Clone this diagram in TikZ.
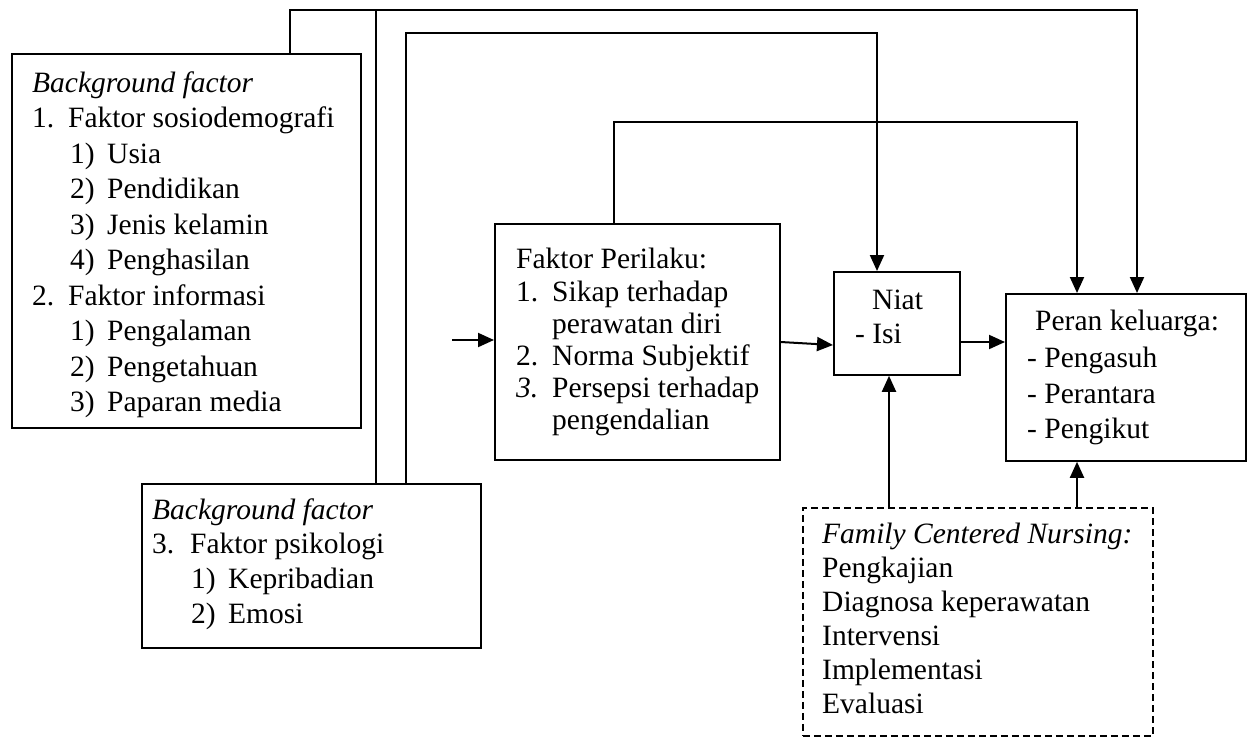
\documentclass[tikz,border=0pt]{standalone}
\usepackage{fontspec}
\setmainfont{Liberation Serif}
\usetikzlibrary{arrows.meta}
\begin{document}
\begin{tikzpicture}[x=1pt,y=-1pt,
  box/.style={draw,line width=1.8pt,inner sep=0pt,anchor=north west},
  dbox/.style={box,line width=1.6pt,dash pattern=on 7pt off 4pt},
  txt/.style={inner sep=0pt,anchor=base west,font=\fontsize{29.5}{34}\selectfont},
  itxt/.style={txt,font=\fontsize{29.5}{34}\selectfont\itshape},
  conn/.style={line width=2pt},
  arr/.style={conn,-{Triangle[length=16pt,width=14pt]}}]
\useasboundingbox (0,0) rectangle (1247,737);
% boxes
\node[box,minimum width=349pt,minimum height=374pt] (b1) at (11,53) {};
\node[box,minimum width=339pt,minimum height=164pt] (b3) at (141,483) {};
\node[box,minimum width=285pt,minimum height=236pt] (fk) at (494,223) {};
\node[box,minimum width=126pt,minimum height=103pt] (niat) at (833,271) {};
\node[box,minimum width=240pt,minimum height=167pt] (peran) at (1005,293) {};
\node[dbox,minimum width=350pt,minimum height=228pt] (fcn) at (802,507) {};
% box 1 text
\node[itxt] (b1t0) at (32,92) {Background factor};
\node[txt] (b1n1) at (32,127.5) {1.};
\node[txt] (b1t1) at (68,127.5) {Faktor sosiodemografi};
\node[txt] (b1n2) at (70,163) {1)};
\node[txt] (b1t2) at (107,163) {Usia};
\node[txt] (b1n3) at (70,198.5) {2)};
\node[txt] (b1t3) at (107,198.5) {Pendidikan};
\node[txt] (b1n4) at (70,234) {3)};
\node[txt] (b1t4) at (107,234) {Jenis kelamin};
\node[txt] (b1n5) at (70,269.5) {4)};
\node[txt] (b1t5) at (107,269.5) {Penghasilan};
\node[txt] (b1n6) at (32,305) {2.};
\node[txt] (b1t6) at (68,305) {Faktor informasi};
\node[txt] (b1n7) at (70,340.5) {1)};
\node[txt] (b1t7) at (107,340.5) {Pengalaman};
\node[txt] (b1n8) at (70,376) {2)};
\node[txt] (b1t8) at (107,376) {Pengetahuan};
\node[txt] (b1n9) at (70,411.5) {3)};
\node[txt] (b1t9) at (107,411.5) {Paparan media};
% box 3 text
\node[itxt] (b3t0) at (152,519) {Background factor};
\node[txt] (b3n1) at (152,553) {3.};
\node[txt] (b3t1) at (190,553) {Faktor psikologi};
\node[txt] (b3n2) at (191,588) {1)};
\node[txt] (b3t2) at (228,588) {Kepribadian};
\node[txt] (b3n3) at (191,623) {2)};
\node[txt] (b3t3) at (228,623) {Emosi};
% faktor perilaku text
\node[txt] (fk0) at (516,268) {Faktor Perilaku:};
\node[txt] (fkn1) at (516,301) {1.};
\node[txt] (fk1) at (552,301) {Sikap terhadap};
\node[txt] (fk2) at (552,333) {perawatan diri};
\node[txt] (fkn3) at (516,365) {2.};
\node[txt] (fk3) at (552,365) {Norma Subjektif};
\node[itxt] (fkn4) at (516,397) {3.};
\node[txt] (fk4) at (552,397) {Persepsi terhadap};
\node[txt] (fk5) at (552,429) {pengendalian};
% niat text
\node[txt] (nt0) at (872,309) {Niat};
\node[txt] (nt1) at (855,343) {- Isi};
% peran text
\node[txt] (pr0) at (1035,330) {Peran keluarga:};
\node[txt] (pr1) at (1027,367) {- Pengasuh};
\node[txt] (pr2) at (1027,403) {- Perantara};
\node[txt] (pr3) at (1027,438) {- Pengikut};
% fcn text
\node[itxt] (fc0) at (822,543) {Family Centered Nursing:};
\node[txt] (fc1) at (822,577) {Pengkajian};
\node[txt] (fc2) at (822,611) {Diagnosa keperawatan};
\node[txt] (fc3) at (822,645) {Intervensi};
\node[txt] (fc4) at (822,679) {Implementasi};
\node[txt] (fc5) at (822,713) {Evaluasi};
% coordinates
\coordinate (cA) at (290,10);
\coordinate (cB) at (1137,10);
\coordinate (cC) at (376,10);
\coordinate (cD) at (406,33);
\coordinate (cE) at (877,33);
\coordinate (cF) at (614,122);
\coordinate (cG) at (1077,122);
\coordinate (cH) at (452,340);
\coordinate (cI) at (0,342);
\coordinate (cJ) at (0,345);
\coordinate (cK) at (889,0);
\coordinate (cL) at (1077,0);
% connectors
\draw[arr] (b1.north -| cA) -- (cA) -- (cB) -- (peran.north -| cB);
\draw[conn] (b3.north -| cC) -- (cC);
\draw[arr] (b3.north -| cD) -- (cD) -- (cE) -- (niat.north -| cE);
\draw[arr] (fk.north -| cF) -- (cF) -- (cG) -- (peran.north -| cG);
\draw[arr] (cH) -- (fk.west |- cH);
\draw[arr] (fk.east |- cI) -- (niat.west |- cJ);
\draw[arr] (niat.east |- cI) -- (peran.west |- cI);
\draw[arr] (fcn.north -| cK) -- (niat.south -| cK);
\draw[arr] (fcn.north -| cL) -- (peran.south -| cL);
\end{tikzpicture}
\end{document}
